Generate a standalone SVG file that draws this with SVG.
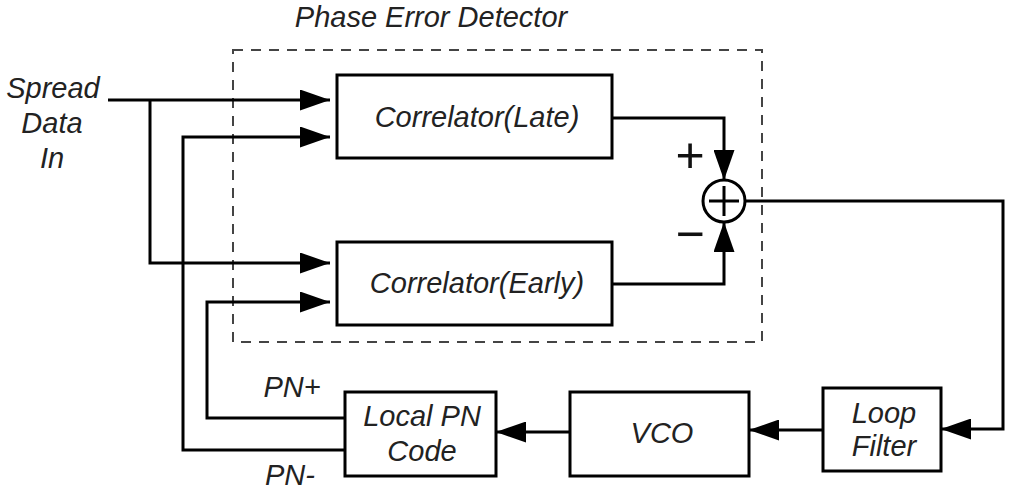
<svg xmlns="http://www.w3.org/2000/svg" width="1015" height="492" viewBox="0 0 1015 492">
<defs>
<marker id="ah" markerUnits="userSpaceOnUse" markerWidth="30" markerHeight="21" refX="30" refY="10.5" orient="auto">
<path d="M0,0 L30,10.5 L0,21 z" fill="#000"/>
</marker>
<style>
.box{fill:#fff;stroke:#000;stroke-width:3}
.t{font-family:"Liberation Sans",Arial,sans-serif;font-style:italic;font-size:29px;fill:#222;text-anchor:middle}
.c{fill:none;stroke:#000;stroke-width:3}
.ca{fill:none;stroke:#000;stroke-width:3;marker-end:url(#ah)}
.s{font-family:"Liberation Sans",Arial,sans-serif;font-size:50px;fill:#111;text-anchor:middle}
</style>
</defs>
<rect width="1015" height="492" fill="#fff"/>
<g id="phase-error-detector">
<rect x="233" y="50" width="529" height="292" fill="none" stroke="#444" stroke-width="2" stroke-dasharray="10,8"/>
<text class="t" x="431" y="27">Phase Error Detector</text>
</g>
<g id="connectors">
<path class="ca" d="M108,100 H330"/>
<path class="ca" d="M150,100 V263 H330"/>
<path class="ca" d="M345,450 H183 V137 H330"/>
<path class="ca" d="M345,418 H207 V302 H330"/>
<path class="ca" d="M612,118 H724 V180"/>
<path class="ca" d="M612,284 H724 V222"/>
<path class="ca" d="M745,201 H1003 V429 H941"/>
<path class="ca" d="M823,430 H749"/>
<path class="ca" d="M570,432 H496"/>
</g>
<g id="spread-data-in">
<text class="t" x="53" y="98">Spread</text>
<text class="t" x="52" y="133">Data</text>
<text class="t" x="52" y="168">In</text>
</g>
<g id="correlator-late">
<rect class="box" x="337" y="75" width="275" height="83"/>
<text class="t" x="477" y="127">Correlator(Late)</text>
</g>
<g id="correlator-early">
<rect class="box" x="337" y="242" width="275" height="83"/>
<text class="t" x="477" y="293">Correlator(Early)</text>
</g>
<g id="summer">
<circle cx="724" cy="201" r="21" fill="#fff" stroke="#000" stroke-width="3"/>
<path class="c" d="M709,201 H739 M724,186 V216"/>
<text class="s" x="690" y="172">+</text>
<text class="s" x="690" y="251">−</text>
</g>
<g id="local-pn-code">
<rect class="box" x="345" y="392" width="151" height="84"/>
<text class="t" x="422" y="426">Local PN</text>
<text class="t" x="422" y="461">Code</text>
<text class="t" x="292" y="397">PN+</text>
<text class="t" x="290" y="485">PN-</text>
</g>
<g id="vco">
<rect class="box" x="570" y="392" width="179" height="84"/>
<text class="t" x="662" y="443">VCO</text>
</g>
<g id="loop-filter">
<rect class="box" x="823" y="388" width="118" height="83"/>
<text class="t" x="884" y="423">Loop</text>
<text class="t" x="884" y="456">Filter</text>
</g>
</svg>
